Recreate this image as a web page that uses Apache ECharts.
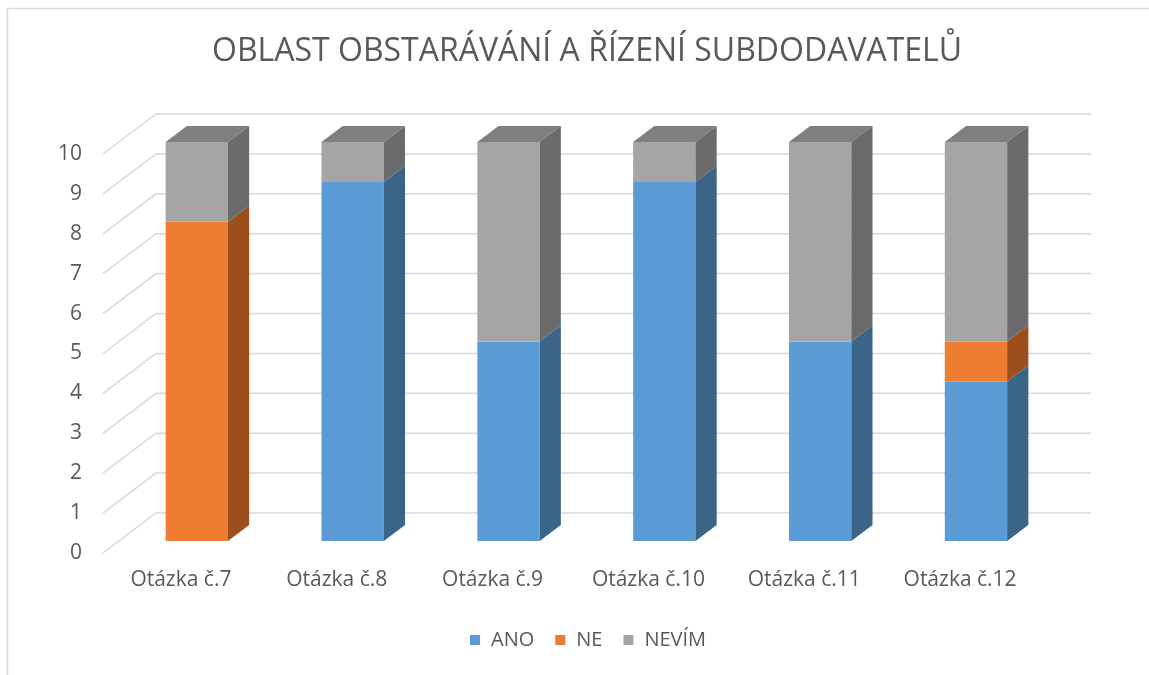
<!DOCTYPE html>
<html>
<head>
<meta charset="utf-8">
<script src="https://cdn.jsdelivr.net/npm/echarts@6/dist/echarts.min.js"></script>
<style>html,body{margin:0;padding:0;background:#fff;}#c{width:1149px;height:675px;}</style>
</head>
<body>
<div id="c"></div>
<script>
var categories = ['Otázka č.7', 'Otázka č.8', 'Otázka č.9', 'Otázka č.10', 'Otázka č.11', 'Otázka č.12'];
var ano = [0, 9, 5, 9, 5, 4];
var ne = [8, 0, 0, 0, 0, 1];
var nevim = [2, 1, 5, 1, 5, 5];
var seriesNames = ['ANO', 'NE', 'NEVÍM'];
var yTicks = [0, 1, 2, 3, 4, 5, 6, 7, 8, 9, 10];

var FONT = 'Open Sans';
var TEXT = '#595959';
var colors = {
  'ANO': { front: '#5B9BD5', side: '#3B6489', top: '#4A7DAB' },
  'NE': { front: '#ED7D31', side: '#9C4F1C', top: '#BD6427' },
  'NEVÍM': { front: '#A5A5A5', side: '#6B6B6B', top: '#7F7F7F' }
};
var DX = 53, DY = 40; // floor depth in px
var BAR_FRONT = 0.3, BAR_DEPTH = 0.4, BAR_W = 0.4;

var allVals = [ano, ne, nevim];
var segs = [[], [], []];
for (var i = 0; i < categories.length; i++) {
  var base = 0;
  var topIdx = -1;
  for (var s = 0; s < 3; s++) if (allVals[s][i] > 0) topIdx = s;
  for (var s2 = 0; s2 < 3; s2++) {
    var v = allVals[s2][i];
    if (v > 0) segs[s2].push([i, base, base + v, s2 === topIdx ? 1 : 0]);
    base += v;
  }
}

function renderBar(name) {
  var c = colors[name];
  return function (params, api) {
    var cat = api.value(0);
    var p0 = api.coord([cat, api.value(1)]);
    var p1 = api.coord([cat, api.value(2)]);
    var band = api.size([1, 0])[0];
    var w = band * BAR_W;
    var ox = DX * BAR_FRONT, oy = -DY * BAR_FRONT;
    var dx = DX * BAR_DEPTH, dy = -DY * BAR_DEPTH;
    var x = p0[0] - w / 2 + ox;
    var yb = p0[1] + oy, yt = p1[1] + oy;
    var children = [
      { type: 'rect', shape: { x: x, y: yt, width: w, height: yb - yt }, style: { fill: c.front } },
      { type: 'polygon', shape: { points: [[x + w, yb], [x + w + dx, yb + dy], [x + w + dx, yt + dy], [x + w, yt]] }, style: { fill: c.side } }
    ];
    if (api.value(3) === 1) {
      children.push({ type: 'polygon', shape: { points: [[x, yt], [x + w, yt], [x + w + dx, yt + dy], [x + dx, yt + dy]] }, style: { fill: c.top } });
    }
    return { type: 'group', children: children };
  };
}

function renderGrid(params, api) {
  var p = api.coord([0, api.value(0)]);
  var left = params.coordSys.x;
  var right = params.coordSys.x + params.coordSys.width;
  return {
    type: 'polyline',
    shape: { points: [[left, p[1]], [left + DX, p[1] - DY], [right + DX, p[1] - DY]] },
    style: { stroke: '#D9D9D9', lineWidth: 1.5, fill: null }
  };
}

var series = [{
  type: 'custom', name: 'grid', renderItem: renderGrid, z: 1, silent: true,
  data: yTicks.map(function (t) { return [t]; }), encode: { y: 0 }
}];
seriesNames.forEach(function (n, k) {
  series.push({
    type: 'custom', name: n, renderItem: renderBar(n), z: 2 + k,
    itemStyle: { color: colors[n].front },
    data: segs[k], encode: { x: 0, y: [1, 2] }
  });
});

var chart = echarts.init(document.getElementById('c'));
chart.setOption({
  animation: false,
  backgroundColor: '#fff',
  graphic: [{ type: 'rect', shape: { x: 7.5, y: 8.5, width: 1300, height: 800 }, style: { fill: null, stroke: '#D9D9D9', lineWidth: 1.5 }, z: -10 }],
  title: {
    text: 'OBLAST OBSTARÁVÁNÍ A ŘÍZENÍ SUBDODAVATELŮ',
    left: 207, top: 31,
    textStyle: { fontFamily: FONT, fontSize: 32, fontWeight: 'normal', color: TEXT }
  },
  legend: {
    data: seriesNames, bottom: 20, left: 465, icon: 'rect', itemWidth: 10, itemHeight: 10, itemGap: 21,
    textStyle: { fontFamily: FONT, fontSize: 20, color: TEXT, padding: [0, 0, 0, 6] }
  },
  grid: { left: 103, right: 111, top: 154, bottom: 122 },
  xAxis: {
    type: 'category', data: categories,
    axisLine: { show: false }, axisTick: { show: false },
    axisLabel: { fontFamily: FONT, fontSize: 21, color: TEXT, margin: 17 }
  },
  yAxis: {
    type: 'value', min: 0, max: 10, interval: 1,
    axisLine: { show: false }, axisTick: { show: false }, splitLine: { show: false },
    axisLabel: { fontFamily: FONT, fontSize: 21, color: TEXT, margin: 21 }
  },
  series: series
});
</script>
</body>
</html>
